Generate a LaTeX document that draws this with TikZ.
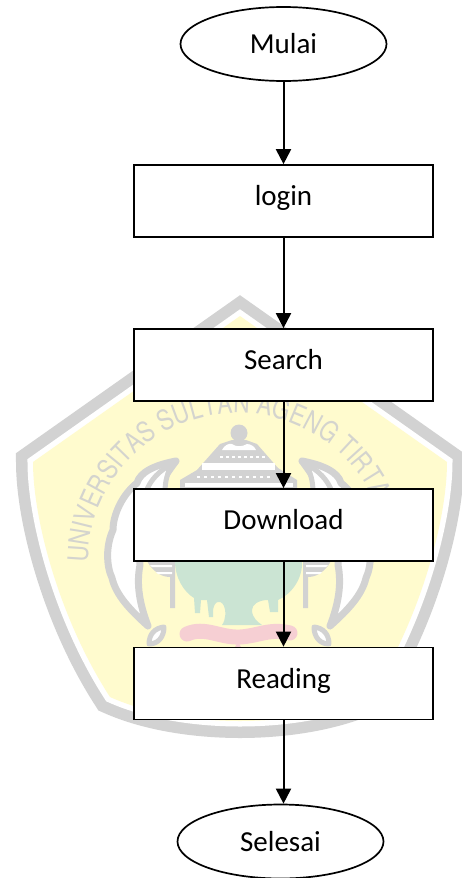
\documentclass[tikz,border=0pt]{standalone}
\usepackage{fontspec}
\setmainfont{Carlito}
\newfontfamily\wmfont[FakeStretch=0.81]{TeX Gyre Heros}
\usetikzlibrary{arrows.meta,decorations.text,shapes.geometric}
\definecolor{wmgray}{HTML}{D2D2D2}
\definecolor{wmyellow}{HTML}{FFFBCE}
\definecolor{wmgreen}{HTML}{CBE4D3}
\definecolor{wmpink}{HTML}{F6CFD3}
\definecolor{wmtext}{HTML}{D4D4CE}
\tikzset{
  flowbox/.style={draw=black,fill=white,line width=1.7pt,minimum width=299pt,minimum height=72pt,inner sep=0pt,font=\fontsize{29}{31}\selectfont},
  terminal/.style={draw=black,fill=white,ellipse,line width=1.7pt,minimum width=206pt,minimum height=74pt,inner sep=0pt,font=\fontsize{29}{31}\selectfont},
  flow/.style={draw=black,line width=2pt,-{Triangle[width=15pt,length=15pt]}},
  wmband/.style={line join=miter,miter limit=10},
  wmleaf/.style={draw=wmgray,fill=white,line width=7pt,line join=round}
}
\newcommand{\shieldpath}{(240,316) -- (33,462) .. controls (33,520) and (60,620) .. (110,697) .. controls (150,715) and (200,721) .. (240,721) .. controls (280,721) and (330,715) .. (370,697) .. controls (420,620) and (447,520) .. (447,462) -- cycle}
\newcommand{\leafshape}{
  \draw[wmleaf] (176,461) .. controls (155,465) and (140,472) .. (137,483) .. controls (122,495) and (113,515) .. (113,530) .. controls (106,545) and (106,565) .. (112,578) .. controls (116,595) and (130,610) .. (148,626) .. controls (140,605) and (136,585) .. (140,565) .. controls (138,530) and (150,495) .. (176,461) -- cycle;
  \draw[wmleaf,line width=5pt] (149,644) .. controls (149,634) and (155,628) .. (164,627) .. controls (164,637) and (158,644) .. (149,644) -- cycle;
  \draw[wmleaf,line width=5pt] (172,464) .. controls (160,470) and (150,480) .. (146,492) -- (165,492) .. controls (165,480) and (168,472) .. (172,464) -- cycle;
}
\newcommand{\stand}{
  \fill[wmgray] (147,561) -- (175,561) -- (175,608) -- (170,608) -- (170,577) .. controls (160,577) and (152,570) .. (147,561) -- cycle;
  \fill[white] (150,565) -- (172,565) -- (172,567) -- (152,567) -- cycle;
  \fill[white] (156,572) -- (172,572) -- (172,574) -- (158,574) -- cycle;
}
\begin{document}
\begin{tikzpicture}[x=1pt,y=-1pt]
\useasboundingbox (0,0) rectangle (462,878);
\clip (0,0) rectangle (462,878);
% watermark
\draw[wmband,draw=wmgray,line width=34pt] \shieldpath;
\draw[wmband,draw=white,line width=11pt] \shieldpath;
\fill[wmyellow] \shieldpath;
\path[decorate,decoration={text along path,text align=left,
  text={|\color{wmtext}\wmfont\fontsize{28}{28}\selectfont|UNIVERSITAS SULTAN AGENG TIRTA}}]
  plot[domain=180:-20,samples=80] ({238+150*cos(\x)},{563-150*sin(\x)});
% leaves and stands, left and mirrored right
\leafshape
\stand
\begin{scope}[xshift=478pt,x=-1pt]
\leafshape
\stand
\end{scope}
% temple
\fill[wmgray] (239,433) circle (8.5);
\fill[wmgray] (232,440) -- (246,440) -- (257,444) -- (278,468) -- (297,480) -- (297,489) -- (180,489) -- (180,480) -- (197,470) -- (220,444) -- cycle;
\fill[white] (222,450) .. controls (224,446) and (228,443) .. (232,444) .. controls (236,447) and (242,447) .. (247,444) .. controls (251,444) and (255,447) .. (256,450) -- cycle;
\fill[white] (202,463) -- (275,463) -- (275,470) -- (202,470) -- cycle;
\fill[white] (185,483) -- (293,483) -- (293,487) -- (185,487) -- cycle;
\foreach \dx in {0,6,...,42} \fill[white] (220+\dx,456) rectangle +(3,2);
\foreach \dx in {0,7,...,70} \fill[white] (197+\dx,476) rectangle +(3,2);
% green jar
\fill[wmgreen] (175,561) -- (302,561) .. controls (303,580) and (290,595) .. (278,600) -- (278,612) -- (270,612) -- (268,600) .. controls (258,600) and (252,605) .. (252,610) .. controls (252,618) and (258,622) .. (262,625) -- (222,625) .. controls (226,620) and (226,610) .. (224,606) .. controls (220,598) and (213,602) .. (213,612) -- (213,617) -- (209,617) -- (207,600) -- (201,600) -- (200,613) -- (195,613) -- (194,598) .. controls (184,592) and (175,578) .. (175,561) -- cycle;
% pink ribbon
\draw[wmpink,line width=15pt,line cap=round] (187,634) .. controls (205,626) and (220,638) .. (240,637) .. controls (258,636) and (270,628) .. (290,633);
\fill[wmpink] (235,647) -- (238,642) -- (241,647) -- cycle;
% flowchart
\node[terminal] (mulai) at (283.5,44) {Mulai};
\node[flowbox] (login) at (283.5,201) {\raisebox{11pt}{login}};
\node[flowbox] (search) at (283.5,365) {\raisebox{11pt}{Search}};
\node[flowbox] (download) at (283.5,525) {\raisebox{11pt}{Download}};
\node[flowbox] (reading) at (283.5,683.5) {\raisebox{11pt}{Reading}};
\node[terminal] (selesai) at (280.5,841.5) {Selesai};
\draw[flow] (mulai.south) -- (login.north);
\draw[flow] (login.south) -- (search.north);
\draw[flow] (search.south) -- (download.north);
\draw[flow] (download.south) -- (reading.north);
\draw[flow] (reading.south) -- (reading.south |- selesai.north);
\end{tikzpicture}
\end{document}
